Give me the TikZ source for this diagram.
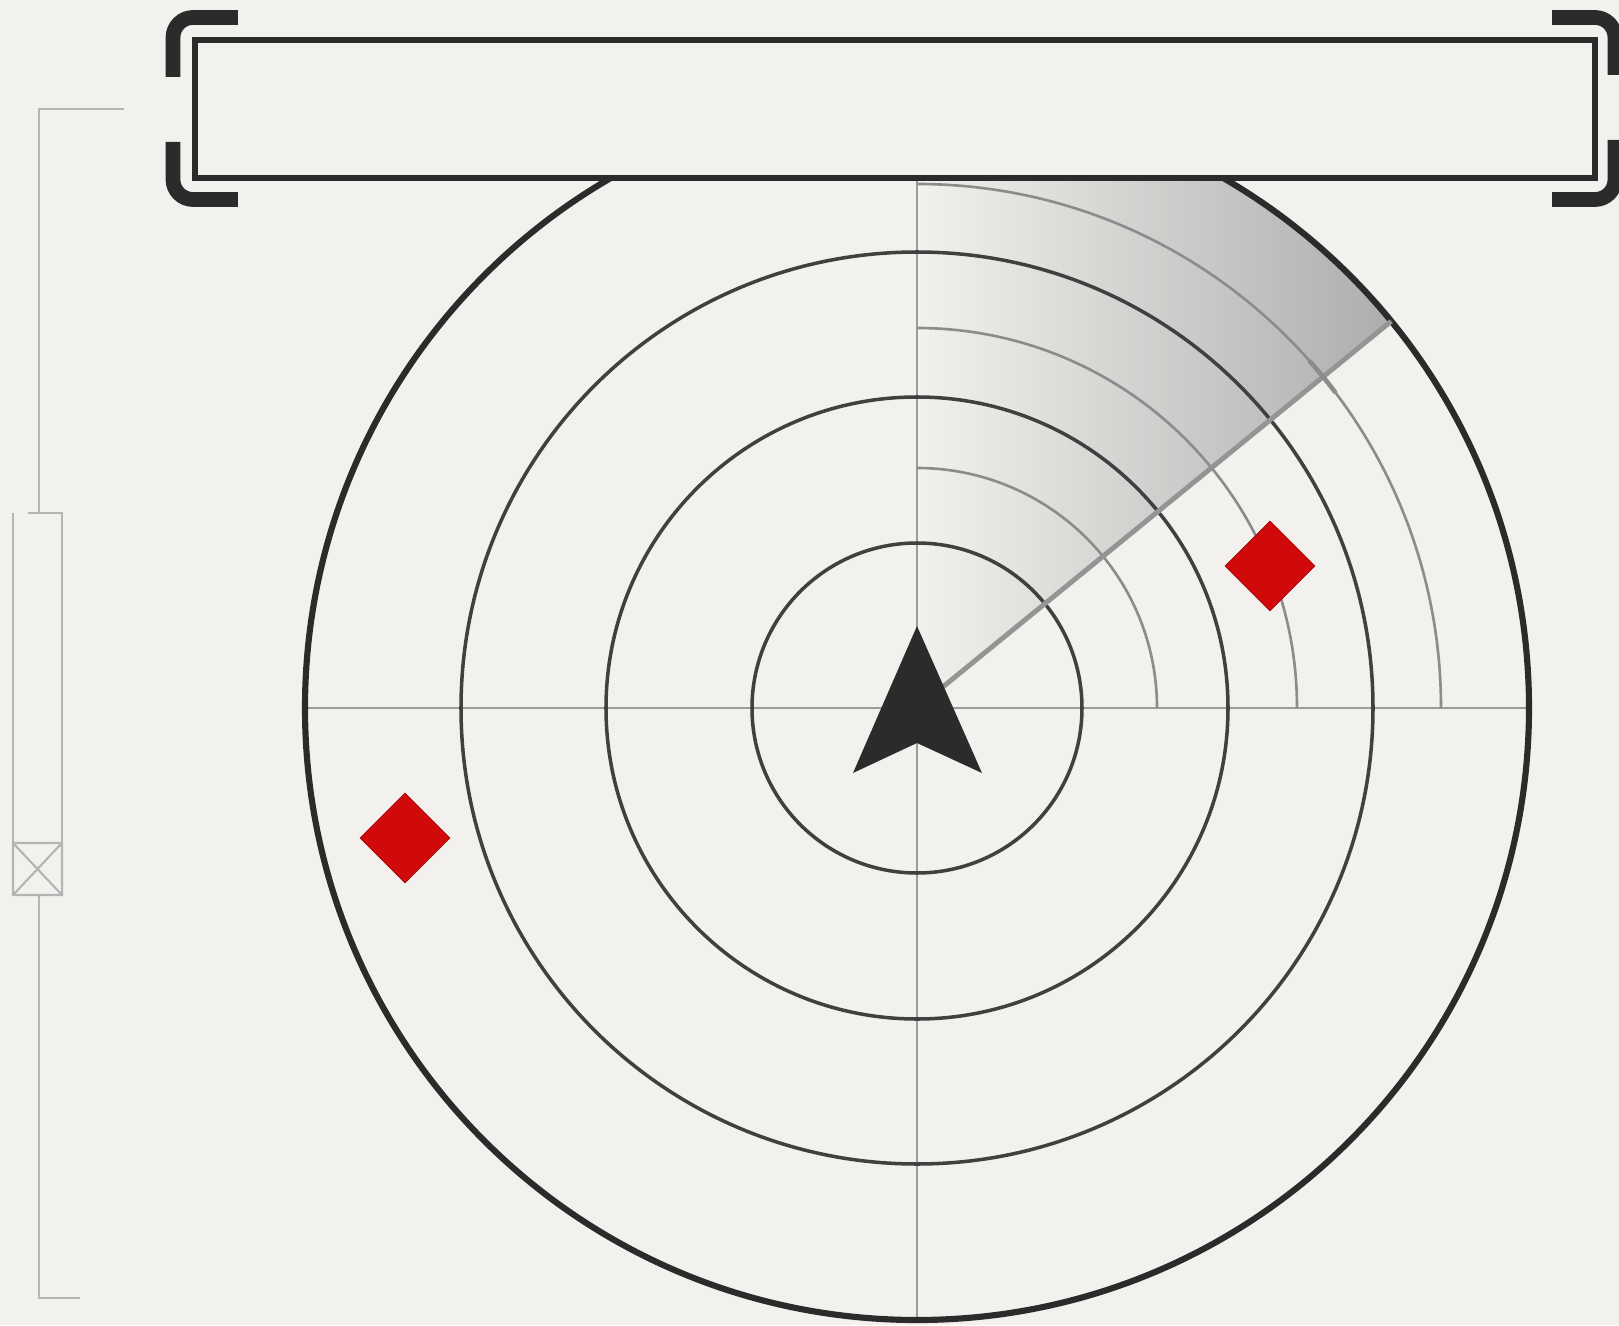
\documentclass[tikz,border=0pt]{standalone}
\usetikzlibrary{shapes.geometric}
\definecolor{paper}{HTML}{F2F1ED}
\definecolor{ink}{HTML}{2B2B2B}
\definecolor{grid}{HTML}{9C9C9C}
\definecolor{blip}{HTML}{D00A0A}
\definecolor{faint}{HTML}{B4B4B4}
\begin{document}
\begin{tikzpicture}[x=0.2mm, y=0.2mm,
  ring/.style={draw=ink!90, line width=2pt},
  guide/.style={draw=grid, line width=1.2pt},
  echo/.style={draw=grid!90!black, line width=1.5pt},
  target/.style={diamond, fill=blip, draw=blip!80!black, line width=0.4pt, inner sep=0pt, minimum size=18mm},
  ruler/.style={draw=faint, line width=1.2pt}]
\fill[paper] (-917,-617) rectangle (702,708);
\useasboundingbox (-917,-617) rectangle (702,708);
\coordinate (O) at (0,0);

\shade[left color=paper, right color=black!32] (O) -- (39.2:612) arc (39.2:90:612) -- cycle;
\draw[guide] (-612,0) -- (612,0);
\draw[guide] (0,-612) -- (0,530);
\foreach \r in {240,380,524} \draw[echo] (\r,0) arc (0:90:\r);
\foreach \r in {165,311,456} \draw[ring] (O) circle (\r);
\draw[ink, line width=3.5pt] (O) circle (612);
\draw[black!42, line width=2.8pt] (O) -- (39.2:612);
\draw[black!45, line width=2.6pt] (37:524) arc (37:41.5:524);

\node[target] (T1) at (353,142) {};
\node[target] (T2) at (-512,-130) {};
\fill[ink] (0,82) -- (65,-65) -- (0,-35) -- (-64,-65) -- cycle;

\node[draw=ink, fill=paper, line width=3.2pt, minimum width=280mm, minimum height=27.6mm, inner sep=0pt] (B) at (-22,599) {};
\draw[ink, line width=8.4pt, rounded corners=4mm] (-744,631) -- (-744,690.5) -- (-679,690.5);
\draw[ink, line width=8.4pt, rounded corners=4mm] (-744,566) -- (-744,508.5) -- (-679,508.5);
\draw[ink, line width=8.4pt, rounded corners=4mm] (698,633) -- (698,690.5) -- (635,690.5);
\draw[ink, line width=8.4pt, rounded corners=4mm] (698,568) -- (698,508.5) -- (635,508.5);

\draw[ruler] (-793,599) -- (-878,599) -- (-878,195);
\draw[ruler] (-889,195) -- (-855,195) -- (-855,-135);
\draw[ruler] (-904,195) -- (-904,-135);
\draw[ruler] (-904,-135) rectangle (-855,-187) (-904,-135) -- (-855,-187) (-904,-187) -- (-855,-135);
\draw[ruler] (-878,-187) -- (-878,-590) -- (-837,-590);
\end{tikzpicture}
\end{document}
